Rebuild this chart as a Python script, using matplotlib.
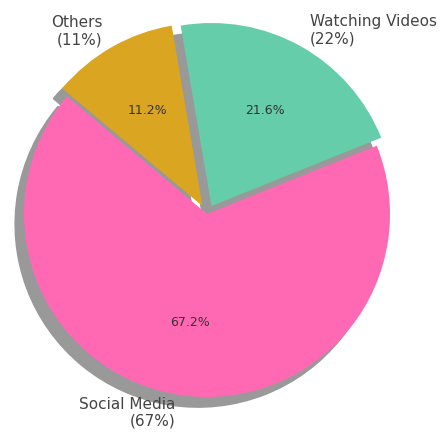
import matplotlib
matplotlib.use('Agg')
import matplotlib.pyplot as plt

# data
categorias = ['Social Media', 'Watching Videos', 'Others']
valores = [67.2, 21.6, 11.2]
colores = ['#ff69b4', '#66cdaa', '#daa520']
separacion = [0, 0.05, 0.05]

etiquetas = [c + '\n(' + str(round(v)) + '%)' for c, v in zip(categorias, valores)]

fig = plt.figure(figsize=(4.46, 4.34), dpi=100)
ax = fig.add_axes([0, 0, 1, 1])

sombra = {'ox': -0.035, 'oy': -0.04, 'facecolor': '#999999',
          'edgecolor': '#999999', 'alpha': 1}
wedges, textos, pcts = ax.pie(valores, labels=etiquetas, colors=colores,
                              explode=separacion, autopct='%1.1f%%',
                              startangle=140, shadow=sombra,
                              textprops={'fontsize': 11, 'color': '#444444'})
for t in pcts:
    t.set_fontsize(9)
    t.set_color('#333333')

# coloca el circulo como en la imagen
r = 183.0
cx, cy = 207, 434 - 214
ax.set_aspect('auto')
ax.set_xlim(-cx / r, (446 - cx) / r)
ax.set_ylim(-cy / r, (434 - cy) / r)

fig.savefig('out.png', dpi=100)
